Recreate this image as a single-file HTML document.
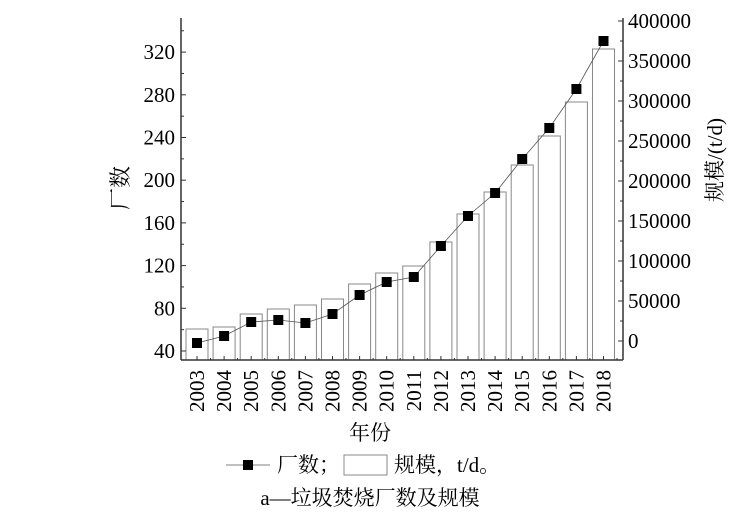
<!DOCTYPE html>
<html><head><meta charset="utf-8"><style>
body{margin:0;background:#fff}
svg text{font-family:"Liberation Serif","Noto Serif CJK SC",serif;fill:#000}
</style></head><body>
<svg width="730" height="516" xmlns="http://www.w3.org/2000/svg">
<g id="bars" fill="#fff" stroke="#888" stroke-width="1"></g>
<polyline id="line" fill="none" stroke="#555" stroke-width="0.8"/>
<g id="marks" fill="#000"></g>
<g stroke="#333" stroke-width="1.5" fill="none">
<line x1="181" y1="18" x2="181" y2="360"/>
<line x1="623" y1="18" x2="623" y2="360"/>
<line x1="181" y1="360" x2="623" y2="360"/>
</g>
<g id="ticks" stroke="#333" stroke-width="1"></g>
<g id="lab" font-size="21"></g>
<text x="0" y="0" font-size="22" transform="translate(128,188) rotate(-90)" text-anchor="middle">厂数</text>
<text x="0" y="0" font-size="21" transform="translate(722,160) rotate(-90)" text-anchor="middle">规模/(t/d)</text>
<text x="370" y="440" font-size="21" text-anchor="middle">年份</text>
<line x1="226" y1="465" x2="270" y2="465" stroke="#555" stroke-width="0.8"/>
<rect x="243" y="460" width="10" height="10" fill="#000"/>
<text x="277" y="472" font-size="21">厂数；</text>
<rect x="344" y="455" width="43" height="20" fill="#fff" stroke="#888"/>
<text x="394" y="472" font-size="21">规模，t/d。</text>
<text x="370" y="505" font-size="21" text-anchor="middle">a—垃圾焚烧厂数及规模</text>
</svg>
<script>
const ns="http://www.w3.org/2000/svg";
function el(p,t,a,txt){const e=document.createElementNS(ns,t);for(const k in a)e.setAttribute(k,a[k]);if(txt!==undefined)e.textContent=txt;document.getElementById(p).appendChild(e);return e;}
const bt=[329,327,314,309,305,299,284,273,266,242,214,192,165,136,102,49];
const mk=[343,336,322,320,323,314,295,282,277,246,216,193,159,128,89,41];
let pts=[];
for(let i=0;i<16;i++){const c=197+27.1*i;
el("bars","rect",{x:c-11,y:bt[i],width:22,height:360-bt[i]});
el("marks","rect",{x:c-5,y:mk[i]-5,width:10,height:10});
pts.push(c+","+mk[i]);
el("ticks","line",{x1:c,y1:360,x2:c,y2:356});
el("ticks","line",{x1:c+13.5,y1:360,x2:c+13.5,y2:358});
el("lab","text",{transform:`translate(${c+7},370) rotate(-90)`,"text-anchor":"end"},String(2003+i));
}
document.getElementById("line").setAttribute("points",pts.join(" "));
for(let v=40;v<=340;v+=20){const y=351-(v-40)*42.7/40;
el("ticks","line",{x1:181,y1:y,x2:v%40==0?186:184,y2:y});
if(v%40==0&&v<=320)el("lab","text",{x:175,y:y+7,"text-anchor":"end"},String(v));}
for(let v=0;v<=400000;v+=25000){const y=341-v*320/400000;
el("ticks","line",{x1:623,y1:y,x2:v%50000==0?618:620,y2:y});
if(v%50000==0)el("lab","text",{x:628,y:y+7},String(v));}
</script>
</body></html>
